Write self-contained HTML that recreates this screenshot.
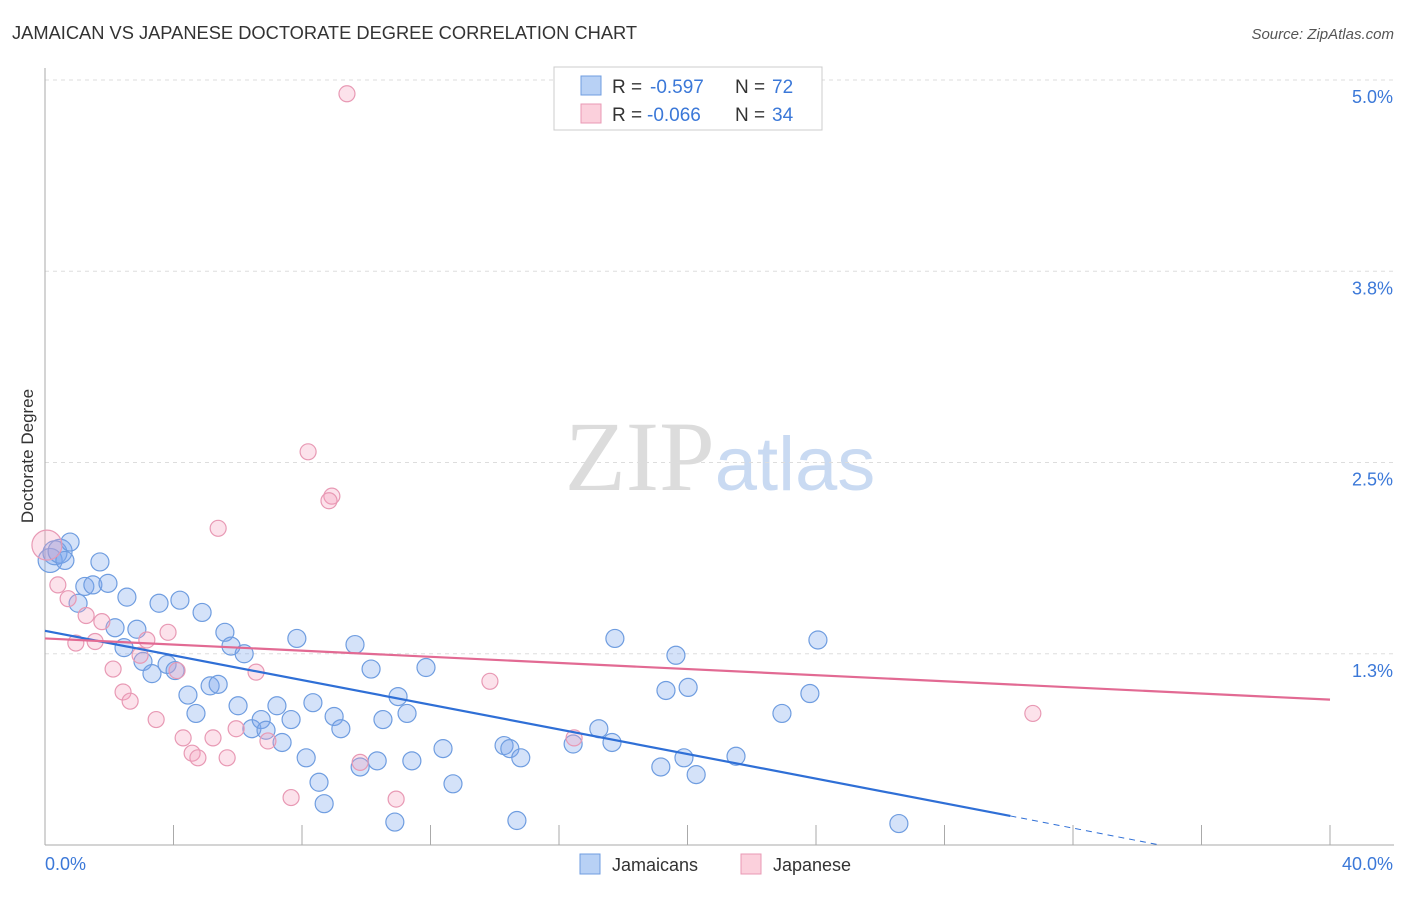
<!DOCTYPE html>
<html><head><meta charset="utf-8"><style>
body{margin:0;background:#fff;}
</style></head><body>
<svg id="chart" width="1406" height="892" xmlns="http://www.w3.org/2000/svg" style="font-family:'Liberation Sans',sans-serif">
<text x="12" y="39" font-size="18.3" fill="#333">JAMAICAN VS JAPANESE DOCTORATE DEGREE CORRELATION CHART</text>
<text x="1394" y="39" font-size="15" fill="#555" text-anchor="end" font-style="italic">Source: ZipAtlas.com</text>
<text x="720" y="490" font-size="100" text-anchor="middle" fill="#dcdcdc" style="font-family:'Liberation Serif',serif">ZIP<tspan fill="#c9daf2" style="font-family:'Liberation Sans',sans-serif" font-size="76">atlas</tspan></text>
<g id="grid"></g><g id="axes"></g><g id="marks"></g>
<text transform="translate(33,456) rotate(-90)" font-size="17" fill="#333" text-anchor="middle">Doctorate Degree</text>
<g>
<rect x="554" y="67" width="268" height="63" fill="#fff" stroke="#ccc"/>
<rect x="581" y="76" width="20" height="19" fill="#b8d1f5" stroke="#6f9de0"/>
<rect x="581" y="104" width="20" height="19" fill="#fbd0dc" stroke="#e899b4"/>
<text x="612" y="93" font-size="19" fill="#333">R =</text>
<text x="650" y="93" font-size="19" fill="#3b78d8">-0.597</text>
<text x="735" y="93" font-size="19" fill="#333">N =</text>
<text x="772" y="93" font-size="19" fill="#3b78d8">72</text>
<text x="612" y="121" font-size="19" fill="#333">R =</text>
<text x="647" y="121" font-size="19" fill="#3b78d8">-0.066</text>
<text x="735" y="121" font-size="19" fill="#333">N =</text>
<text x="772" y="121" font-size="19" fill="#3b78d8">34</text>
</g>
<g>
<rect x="580" y="854" width="20" height="20" fill="#b8d1f5" stroke="#6f9de0"/>
<text x="612" y="871" font-size="18" fill="#333">Jamaicans</text>
<rect x="741" y="854" width="20" height="20" fill="#fbd0dc" stroke="#e899b4"/>
<text x="773" y="871" font-size="18" fill="#333">Japanese</text>
</g>
</svg>
<script>
const yTicks=[5.0,3.75,2.5,1.25];
const yTickLabels=["5.0%","3.8%","2.5%","1.3%"];
const xTickLabels=["0.0%","40.0%"];
const blueX=[0.16,0.31,0.47,0.62,0.78,1.24,1.49,1.71,1.96,1.03,2.18,2.55,2.46,2.86,3.05,3.33,3.55,3.80,4.20,4.05,4.45,4.70,4.89,5.14,5.39,5.60,5.79,6.01,6.20,6.44,6.73,6.88,7.38,7.22,7.66,7.84,8.13,8.34,8.53,8.69,9.00,9.21,9.65,9.81,10.15,10.34,10.52,10.89,10.99,11.27,11.42,11.86,12.39,12.70,14.29,14.47,14.69,14.81,16.44,17.24,17.65,17.74,19.17,19.33,19.64,19.89,20.02,20.27,21.51,22.94,23.81,24.06,26.58];
const blueY=[1.86,1.91,1.92,1.86,1.98,1.69,1.70,1.85,1.71,1.58,1.42,1.62,1.29,1.41,1.20,1.12,1.58,1.18,1.60,1.14,0.98,0.86,1.52,1.04,1.05,1.39,1.30,0.91,1.25,0.76,0.82,0.75,0.67,0.91,0.82,1.35,0.57,0.93,0.41,0.27,0.84,0.76,1.31,0.51,1.15,0.55,0.82,0.15,0.97,0.86,0.55,1.16,0.63,0.40,0.65,0.63,0.16,0.57,0.66,0.76,0.67,1.35,0.51,1.01,1.24,0.57,1.03,0.46,0.58,0.86,0.99,1.34,0.14];
const pinkX=[0.06,0.40,0.72,1.28,1.77,0.96,1.56,2.12,2.43,2.65,3.17,2.96,3.46,3.83,4.11,4.30,4.58,4.76,5.23,5.39,5.67,5.95,6.57,6.94,7.66,8.19,8.93,8.84,9.40,9.81,10.93,13.85,16.47,30.75];
const pinkY=[1.96,1.70,1.61,1.50,1.46,1.32,1.33,1.15,1.00,0.94,1.34,1.24,0.82,1.39,1.14,0.70,0.60,0.57,0.70,2.07,0.57,0.76,1.13,0.68,0.31,2.57,2.28,2.25,4.91,0.54,0.30,1.07,0.70,0.86];
const blueTrend=[[0,1.40],[30.05,0.19]];
const blueDash=[[30.05,0.19],[34.7,0]];
const pinkTrend=[[0,1.35],[40,0.95]];
const NS="http://www.w3.org/2000/svg";
const X=v=>45+v/40*1285, Y=v=>845-v*153;
function mk(t,a,p){const e=document.createElementNS(NS,t);for(const k in a)e.setAttribute(k,a[k]);p.appendChild(e);return e;}
const grid=document.getElementById('grid'),axes=document.getElementById('axes'),marks=document.getElementById('marks');
yTicks.forEach((v,i)=>{
 const l=mk('line',{x1:45,x2:1394,y1:Y(v),y2:Y(v),stroke:'#ddd','stroke-dasharray':'4,4'},grid);
 
 
 const t=mk('text',{x:1393,y:Y(v)+23,'font-size':18,fill:'#3b78d8','text-anchor':'end'},axes);t.textContent=yTickLabels[i];
 
 
});
const ax=mk('line',{x1:45,x2:45,y1:68,y2:845,stroke:'#aaa'},axes);


const bx=mk('line',{x1:45,x2:1394,y1:845,y2:845,stroke:'#aaa'},axes);


for(let i=0;i<=10;i++){const t=mk('line',{x1:X(i*4),x2:X(i*4),y1:825,y2:845,stroke:'#aaa'},axes);
 
 }
[[0,45,'start'],[40,1393,'end']].forEach((d,i)=>{const t=mk('text',{x:d[1],y:870,'font-size':18,fill:'#3b78d8','text-anchor':d[2]},axes);t.textContent=xTickLabels[i];
 
 });
blueX.forEach((v,i)=>{const c=mk('circle',{cx:X(v),cy:Y(blueY[i]),r:i<3?12:9,fill:'rgba(120,165,235,0.32)',stroke:'#6f9de0','stroke-width':1.2},marks);
 
 });
pinkX.forEach((v,i)=>{const c=mk('circle',{cx:X(v),cy:Y(pinkY[i]),r:i==0?15:8,fill:'rgba(245,160,190,0.3)',stroke:'#e899b4','stroke-width':1.2},marks);
 
 });
const bl=mk('line',{x1:X(blueTrend[0][0]),y1:Y(blueTrend[0][1]),x2:X(blueTrend[1][0]),y2:Y(blueTrend[1][1]),stroke:'#2f6fd6','stroke-width':2.2},marks);


const bd=mk('line',{x1:X(blueDash[0][0]),y1:Y(blueDash[0][1]),x2:X(blueDash[1][0]),y2:Y(blueDash[1][1]),stroke:'#2f6fd6','stroke-width':1,'stroke-dasharray':'6,5'},marks);


const pl=mk('line',{x1:X(pinkTrend[0][0]),y1:Y(pinkTrend[0][1]),x2:X(pinkTrend[1][0]),y2:Y(pinkTrend[1][1]),stroke:'#e26a93','stroke-width':2.2},marks);


</script>
</body></html>
